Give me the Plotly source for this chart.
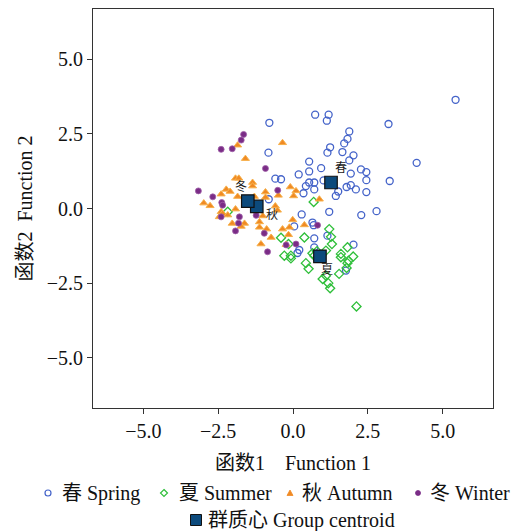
import plotly.graph_objects as go

# ---- data ----
spring_x = [5.43, 3.19, 4.13, 3.23, 0.74, 1.19, 1.13, -0.79, 1.88, 1.82, 1.71, 1.24, 1.15, 1.65,
            -0.82, 2.02, 1.88, 0.54, 0.94, 0.54, 2.27, 2.45, 1.93, 0.19, -0.59, -0.40, 1.02, 2.45,
            0.54, 0.71, 0.43, 0.71, 1.79, 1.93, 2.10, 0.35, 1.51, 1.43, 2.45, 2.79, 2.28, 1.21,
            0.29, -0.81, 0.65, 0.69, 0.04, 0.71, 1.15, 0.71, 0.21, 0.15, 2.02, 1.77]
spring_y = [3.64, 2.83, 1.53, 0.92, 3.14, 3.14, 2.94, 2.87, 2.58, 2.33, 2.18, 2.05, 1.87, 1.89,
            1.87, 1.78, 1.61, 1.57, 1.35, 1.24, 1.31, 1.22, 1.17, 1.14, 1.00, 0.98, 0.94, 0.95,
            0.87, 0.87, 0.75, 0.64, 0.72, 0.78, 0.64, 0.51, 0.57, 0.42, 0.55, -0.09, -0.22, -0.11,
            -0.20, 0.31, -0.47, -0.56, -0.60, -1.00, -0.91, -1.30, -1.39, -1.49, -1.21, -2.08]

summer_x = [0.69, -2.18, -0.40, 1.21, 1.27, 1.30, 0.38, -0.29, -0.07, -0.07, 0.65, 0.71, 1.10,
            0.43, 0.52, 1.10, 0.99, 1.18, 1.24, 1.82, 1.60, 1.60, 2.01, 1.85, 1.82, 1.54, 1.79,
            2.12, -0.15, 0.80]
summer_y = [0.22, -0.11, -0.98, -0.69, -0.95, -1.19, -0.97, -1.58, -1.58, -1.67, -1.50, -1.58,
            -1.41, -1.83, -2.02, -2.25, -2.36, -2.50, -2.67, -1.30, -1.52, -1.63, -1.61, -1.75,
            -1.83, -2.19, -1.99, -3.28, -1.19, -1.43]

autumn_x = [-1.85, -1.59, -0.35, -1.92, -1.81, -1.35, -1.35, -2.23, -2.10, -2.40, -1.85, -0.92,
            -0.92, -2.98, -2.77, -1.92, -2.40, -2.35, -2.18, -2.46, -1.29, -1.01, -1.12, -2.03,
            -1.62, -1.73, -1.12, -0.88, -1.07, -0.73, -0.09, 0.10, 0.02, 0.88, -0.49, -0.01,
            0.38, -0.35, -0.12, -0.15, -0.23, -0.59, -0.52]
autumn_y = [2.12, 1.67, 2.20, 1.01, 1.01, 0.87, 0.75, 0.64, 0.57, 0.48, 0.40, 0.55, 0.37, 0.18,
            0.09, -0.02, -0.11, -0.17, -0.22, -0.28, 0.40, -0.25, -0.45, -0.50, -0.50, -0.60,
            -0.63, -0.69, -1.19, -0.97, 0.72, 0.59, 0.42, 0.31, 0.44, -0.38, -0.55, -0.69,
            -0.63, -0.88, -1.21, 0.08, -0.06]

winter_x = [-1.65, -1.73, -2.40, -2.03, -0.92, -3.16, -2.68, -2.38, -2.35, -0.51, -1.79, -2.40,
            -1.82, -1.92, -1.23, -0.96, -0.23, 0.82, 0.10, -0.85]
winter_y = [2.48, 2.29, 1.98, 2.00, 1.34, 0.59, 0.39, 0.20, 0.11, 0.61, -0.28, -0.28, -0.49,
            -0.75, -0.23, -0.83, -1.22, -0.56, -1.19, -1.45]

centroid_x = [1.27, 0.90, -1.21, -1.51]
centroid_y = [0.87, -1.60, 0.07, 0.25]
centroid_labels = ["春", "夏", "秋", "冬"]

series_names = ["春 Spring", "夏 Summer", "秋 Autumn", "冬 Winter"]
centroid_name = "群质心 Group centroid"
x_title = "函数1\u3000Function 1"
y_title = "函数2\u2002Function 2"
tick_vals = [-5.0, -2.5, 0.0, 2.5, 5.0]

# ---- styling / layout constants ----
PAGE = 8                      # default body margin of the written page
W, H = 529 - PAGE, 531 - PAGE
ML, MT = 93 - PAGE, 9 - PAGE
PW, PH = 400, 399
MR, MB = W - ML - PW, H - MT - PH
FONT = "Liberation Serif, Times New Roman, Noto Sans CJK SC, serif"
C_SPRING, C_SUMMER, C_AUTUMN, C_WINTER = "#4463c9", "#2fbf3a", "#f08a24", "#7a2c86"
C_CENT = "#0c4a7c"

fig = go.Figure()
fig.add_trace(go.Scatter(x=spring_x, y=spring_y, mode="markers", name=series_names[0],
                         marker=dict(symbol="circle-open", size=7, color=C_SPRING,
                                     line=dict(width=1.3, color=C_SPRING))))
fig.add_trace(go.Scatter(x=summer_x, y=summer_y, mode="markers", name=series_names[1],
                         marker=dict(symbol="diamond-open", size=7, color=C_SUMMER,
                                     line=dict(width=1.3, color=C_SUMMER))))
fig.add_trace(go.Scatter(x=autumn_x, y=autumn_y, mode="markers", name=series_names[2],
                         marker=dict(symbol="triangle-up", size=7, color=C_AUTUMN,
                                     line=dict(width=1, color="#f7b04a"))))
fig.add_trace(go.Scatter(x=winter_x, y=winter_y, mode="markers", name=series_names[3],
                         marker=dict(symbol="circle", size=6, color=C_WINTER,
                                     line=dict(width=0.8, color="#a060a8"))))
fig.add_trace(go.Scatter(x=centroid_x, y=centroid_y, mode="markers", name=centroid_name,
                         marker=dict(symbol="square", size=12.5, color=C_CENT,
                                     line=dict(width=1.2, color="#111111"))))

label_shift = {"春": (10, 16), "夏": (7, -12), "秋": (15, -7), "冬": (-7, 16)}
for cx, cy, lab in zip(centroid_x, centroid_y, centroid_labels):
    dx, dy = label_shift[lab]
    fig.add_annotation(x=cx, y=cy, text=lab, showarrow=False, xshift=dx, yshift=dy,
                       font=dict(family="Noto Sans CJK SC", size=12, color="#1a1a1a"))

# ---- manual legend (page pixel placement converted to paper coords) ----
def px_x(p):
    return (p - PAGE - ML) / PW

def px_y(p):
    return (H - MB - (p - PAGE)) / PH

legend_items = [
    # (marker kind, colour, marker px x, text px x, row px y, label)
    ("circle-open", C_SPRING, 48, 61, 493, series_names[0]),
    ("diamond-open", C_SUMMER, 164, 178, 493, series_names[1]),
    ("triangle", C_AUTUMN, 290, 301, 493, series_names[2]),
    ("dot", C_WINTER, 418, 429, 493, series_names[3]),
    ("square", C_CENT, 196, 207, 520, centroid_name),
]
for kind, col, mx, tx, ry, lab in legend_items:
    ax, ay = px_x(mx), px_y(ry)
    common = dict(xref="paper", yref="paper", xsizemode="pixel", ysizemode="pixel",
                  xanchor=ax, yanchor=ay, layer="above")
    if kind == "circle-open":
        fig.add_shape(type="circle", x0=-3, x1=3, y0=-3, y1=3,
                      line=dict(color=col, width=1.2), fillcolor="rgba(0,0,0,0)", **common)
    elif kind == "diamond-open":
        fig.add_shape(type="path", path="M0,3.5 L3.5,0 L0,-3.5 L-3.5,0 Z",
                      line=dict(color=col, width=1.2), fillcolor="rgba(0,0,0,0)", **common)
    elif kind == "triangle":
        fig.add_shape(type="path", path="M-3,-2.5 L3,-2.5 L0,3 Z",
                      line=dict(color=col, width=0.8), fillcolor=col, **common)
    elif kind == "dot":
        fig.add_shape(type="circle", x0=-2.5, x1=2.5, y0=-2.5, y1=2.5,
                      line=dict(color=col, width=0.8), fillcolor=col, **common)
    else:
        fig.add_shape(type="rect", x0=-5.5, x1=5.5, y0=-5.5, y1=5.5,
                      line=dict(color="#111111", width=1), fillcolor=col, **common)
    fig.add_annotation(xref="paper", yref="paper", x=px_x(tx), y=ay, text=lab,
                       showarrow=False, xanchor="left", yanchor="middle", borderpad=0,
                       font=dict(family=FONT, size=20, color="#111111"))

axis_common = dict(range=[-6.68, 6.68], tickvals=tick_vals, tickformat=".1f",
                   showgrid=False, zeroline=False, showline=True, mirror=True,
                   linecolor="#333333", linewidth=1, ticks="outside", ticklen=5,
                   tickcolor="#333333", tickfont=dict(family=FONT, size=20, color="#111111"))

fig.update_layout(
    width=W, height=H,
    margin=dict(l=ML, r=MR, t=MT, b=MB, autoexpand=False),
    paper_bgcolor="white", plot_bgcolor="white",
    font=dict(family=FONT, size=20, color="#111111"),
    xaxis=dict(axis_common, title=dict(text=x_title, font=dict(family=FONT, size=20), standoff=14)),
    yaxis=dict(axis_common, title=dict(text=y_title, font=dict(family=FONT, size=20), standoff=8)),
    showlegend=False,
)

fig.write_html("out.html")
